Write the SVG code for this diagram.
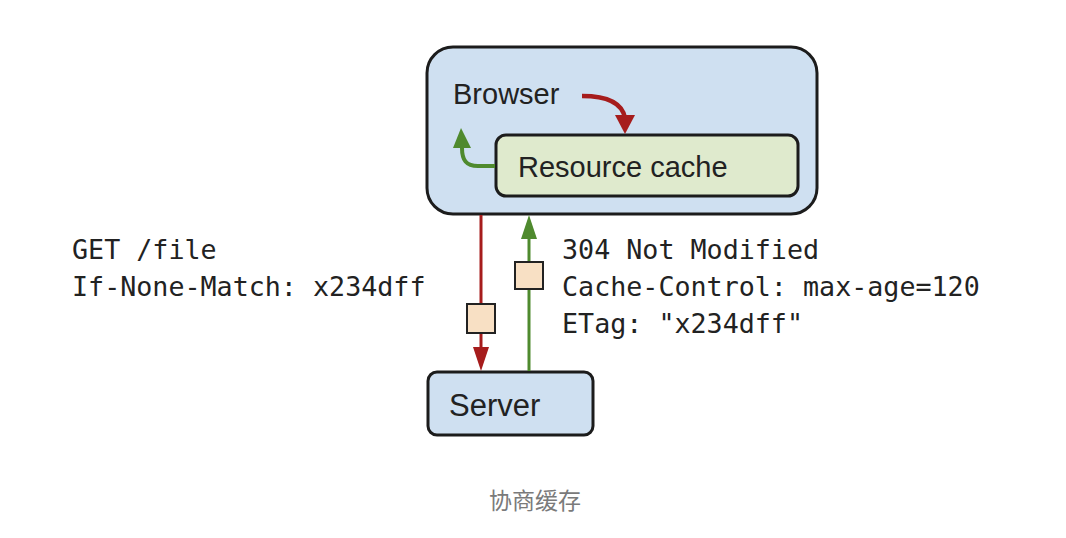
<svg xmlns="http://www.w3.org/2000/svg" width="1066" height="538" viewBox="0 0 1066 538">
<style>
.box{stroke:#1c1c1c;stroke-width:3}
.lbl{font-family:"Liberation Sans",Arial,sans-serif;fill:#222}
.mono{font-family:"DejaVu Sans Mono","Liberation Mono",monospace;font-size:26.7px;fill:#222}
.pkt{fill:#f8e0c4;stroke:#222;stroke-width:2}
</style>
<rect width="1066" height="538" fill="#ffffff"/>
<g id="browser">
<rect class="box" x="427" y="47" width="390" height="167" rx="26" fill="#cfe0f1"/>
<text class="lbl" x="453" y="104" font-size="29">Browser</text>
</g>
<g id="cache">
<rect class="box" x="496" y="135" width="302" height="61" rx="10" fill="#dfeacd"/>
<text class="lbl" x="518" y="177" font-size="29">Resource cache</text>
</g>
<g id="server">
<rect class="box" x="428" y="372" width="165" height="63" rx="9" fill="#cfe0f1"/>
<text class="lbl" x="449" y="416" font-size="31">Server</text>
</g>
<g id="connectors">
<path d="M582,96 C605,96 622,102 625,118" fill="none" stroke="#a61c1c" stroke-width="4.5"/>
<path d="M615,115 L635,115 L625,134 Z" fill="#a61c1c"/>
<path d="M495,166 L478,166 C466,166 462,160 462,148" fill="none" stroke="#4f8a2e" stroke-width="4"/>
<path d="M453,148 L471,148 L461,128 Z" fill="#4f8a2e"/>
<line x1="481" y1="215" x2="481" y2="350" stroke="#a61c1c" stroke-width="3"/>
<path d="M473,347 L489,347 L481,371 Z" fill="#a61c1c"/>
<line x1="529" y1="371" x2="529" y2="236" stroke="#4f8a2e" stroke-width="3"/>
<path d="M521,239 L537,239 L529,215 Z" fill="#4f8a2e"/>
<rect class="pkt" x="467" y="304" width="28" height="29"/>
<rect class="pkt" x="515" y="262" width="28" height="27"/>
</g>
<g id="request">
<text class="mono" x="72" y="259">GET /file</text>
<text class="mono" x="72" y="296">If-None-Match: x234dff</text>
</g>
<g id="response">
<text class="mono" x="562" y="259">304 Not Modified</text>
<text class="mono" x="562" y="296">Cache-Control: max-age=120</text>
<text class="mono" x="562" y="333">ETag: "x234dff"</text>
</g>
<text x="535" y="509" text-anchor="middle" font-family="'Noto Sans CJK SC',sans-serif" font-size="23" fill="#7a7a7a">协商缓存</text>
</svg>
